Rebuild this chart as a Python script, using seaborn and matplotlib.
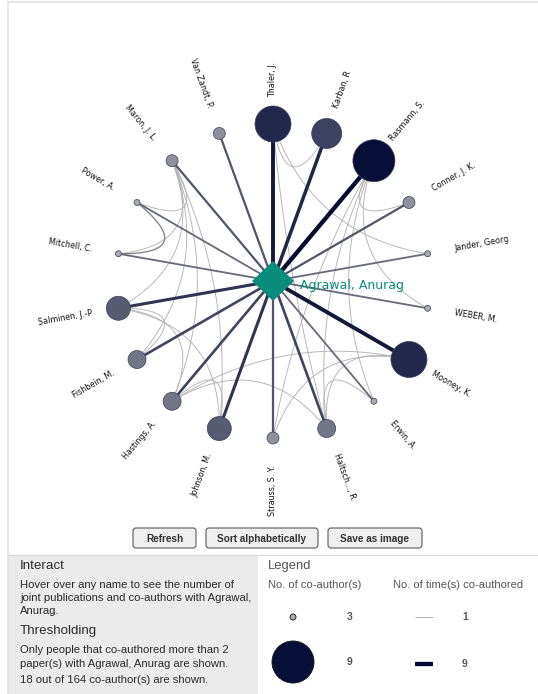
"""Co-author network of Agrawal, Anurag (radial layout)."""
import matplotlib

matplotlib.use("Agg")
import matplotlib.pyplot as plt
import numpy as np
import pandas as pd
import seaborn as sns
from matplotlib.colors import Normalize
from matplotlib.patches import FancyBboxPatch, Polygon, Rectangle

CENTER_NAME = "Agrawal, Anurag"

# co-authors, clockwise from the top
names = [
    "Thaler, J.", "Karban, R", "Rasmann, S.", "Conner, J. K.", "Jander, Georg",
    "WEBER, M.", "Mooney, K.", "Erwin, A.", "Haltsch..., R.", "Strauss, S. Y.",
    "Johnson, M.", "Hastings, A.", "Fishbein, M.", "Salminen, J.-P", "Mitchell, C.",
    "Power, A.", "Maron, J. L.", "Van Zandt, P.",
]
# joint publications with the centre author
joint = [8, 7, 9, 4, 3, 3, 8, 3, 5, 4, 6, 5, 5, 6, 3, 3, 4, 4]

# links between co-authors (a, b, times)
link_a = [
    "Thaler, J.", "Thaler, J.", "Thaler, J.", "Rasmann, S.", "Rasmann, S.",
    "Rasmann, S.", "Rasmann, S.", "Mooney, K.", "Mooney, K.", "Haltsch..., R.",
    "Hastings, A.", "Hastings, A.", "Johnson, M.", "Johnson, M.", "Maron, J. L.",
    "Salminen, J.-P", "Salminen, J.-P", "Salminen, J.-P", "Maron, J. L.", "Maron, J. L.",
    "Power, A.", "Maron, J. L.", "Rasmann, S.", "Hastings, A.",
]
link_b = [
    "Karban, R", "Jander, Georg", "Haltsch..., R.", "Conner, J. K.", "Erwin, A.",
    "Haltsch..., R.", "WEBER, M.", "Strauss, S. Y.", "Haltsch..., R.", "Erwin, A.",
    "Haltsch..., R.", "Johnson, M.", "Maron, J. L.", "Salminen, J.-P", "Hastings, A.",
    "Fishbein, M.", "Hastings, A.", "Maron, J. L.", "Power, A.", "Mitchell, C.",
    "Mitchell, C.", "Fishbein, M.", "Strauss, S. Y.", "Mooney, K.",
]
link_n = [1, 1, 1, 1, 1, 1, 1, 1, 1, 1, 1, 1, 1, 1, 1, 1, 1, 1, 1, 1, 2, 1, 1, 1]

legend_nodes = [3, 9]
legend_links = [1, 9]

W, H = 538, 694
CX, CY, R, R_LABEL = 273, 281, 157, 184
PX = 0.72  # points per pixel at dpi 100

node_cmap = sns.blend_palette(["#a9aaaf", "#070e38"], as_cmap=True)
edge_cmap = sns.blend_palette(["#b4b4b4", "#050b30"], as_cmap=True)


def node_radius(v):
    return 3 + 3 * (v - 3)


def link_width(v):
    return (1 + (v - 1) * 3.3 / 8) * PX


def link_color(v):
    return edge_cmap(((v - 1) / 8) ** 0.6)


sizes = {v: (2 * node_radius(v) * PX) ** 2 for v in range(3, 10)}

sns.set_theme(style="white")
plt.rcParams["font.family"] = ["DejaVu Sans"]

fig = plt.figure(figsize=(W / 100, H / 100), dpi=100)
ax = fig.add_axes([0, 0, 1, 1])
ax.set_xlim(0, W)
ax.set_ylim(H, 0)
ax.axis("off")

# layout
theta = np.deg2rad(90 - 20 * np.arange(len(names)))
nodes = pd.DataFrame({
    "name": names,
    "joint": joint,
    "x": CX + R * np.cos(theta),
    "y": CY - R * np.sin(theta),
    "theta": np.rad2deg(theta),
})
pos = nodes.set_index("name")[["x", "y"]]

# frame
ax.plot([8, W], [2, 2], color="#e2e2e2", lw=1.2)
ax.plot([8, 8], [2, H], color="#e2e2e2", lw=1.2)

# links between co-authors, bent toward the centre
t = np.linspace(0, 1, 60)[:, None]
centre = np.array([CX, CY])
for a, b, n in zip(link_a, link_b, link_n):
    p0, p2 = pos.loc[a].to_numpy(), pos.loc[b].to_numpy()
    ctrl = centre + 0.5 * ((p0 + p2) / 2 - centre)
    curve = (1 - t) ** 2 * p0 + 2 * (1 - t) * t * ctrl + t ** 2 * p2
    ax.plot(curve[:, 0], curve[:, 1], color="#b3b3b3" if n == 1 else "#7d7f88",
            lw=(0.9 if n == 1 else 1.3) * PX, zorder=1)

# links to the centre author
for _, row in nodes.iterrows():
    ax.plot([CX, row.x], [CY, row.y], color=link_color(row.joint),
            lw=link_width(row.joint), solid_capstyle="butt", zorder=2)

sns.scatterplot(data=nodes, x="x", y="y", hue="joint", size="joint",
                palette=node_cmap, hue_norm=Normalize(3, 9), sizes=sizes,
                edgecolor="#3a3f55", linewidth=0.5, legend=False, ax=ax, zorder=3)

# labels
for _, row in nodes.iterrows():
    th = row.theta
    th = (th + 180) % 360 - 180
    lx = CX + R_LABEL * np.cos(np.deg2rad(th))
    ly = CY - R_LABEL * np.sin(np.deg2rad(th))
    if -90 < th <= 90:
        rot, ha = th, "left"
    else:
        rot, ha = th - 180 if th > 0 else th + 180, "right"
    ax.text(lx, ly, row["name"], rotation=rot, ha=ha, va="center",
            rotation_mode="anchor", fontsize=5.8, color="#111111")

ax.add_patch(Polygon([[CX, CY - 20], [CX + 21, CY], [CX, CY + 20], [CX - 21, CY]],
                     closed=True, facecolor="#0a8c7c", edgecolor="none", zorder=4))
ax.text(CX + 27, CY + 4, CENTER_NAME, fontsize=9, color="#0a8c7c",
        ha="left", va="center", zorder=5)

# buttons
for label, x0, x1 in [("Refresh", 133, 196), ("Sort alphabetically", 206, 318),
                      ("Save as image", 328, 422)]:
    ax.add_patch(FancyBboxPatch((x0, 528), x1 - x0, 20,
                                boxstyle="round,pad=0,rounding_size=3",
                                facecolor="#efefef", edgecolor="#5a5a5a", lw=0.8))
    ax.text((x0 + x1) / 2, 538.5, label, ha="center", va="center", fontsize=7.2,
            fontweight="bold", color="#333333", family="Liberation Sans")

# bottom panel
ax.add_patch(Rectangle((8, 555), 250, H - 555, facecolor="#ebebeb", edgecolor="none"))
ax.plot([8, W], [555, 555], color="#dcdcdc", lw=1)

panel = dict(family="Liberation Sans", color="#2b2b2b", ha="left", va="center")
body = 8.1
ax.text(20, 566, "Interact", fontsize=9.6, **panel)
ax.text(20, 585, "Hover over any name to see the number of", fontsize=body, **panel)
ax.text(20, 598, "joint publications and co-authors with Agrawal,", fontsize=body, **panel)
ax.text(20, 611, "Anurag.", fontsize=body, **panel)
ax.text(20, 631, "Thresholding", fontsize=9.6, **panel)
ax.text(20, 650, "Only people that co-authored more than 2", fontsize=body, **panel)
ax.text(20, 664, "paper(s) with Agrawal, Anurag are shown.", fontsize=body, **panel)
ax.text(20, 680, "18 out of 164 co-author(s) are shown.", fontsize=body, **panel)

leg = dict(family="Liberation Sans", color="#555555", ha="left", va="center")
ax.text(268, 566, "Legend", fontsize=9.4, **leg)
ax.text(268, 585, "No. of co-author(s)", fontsize=8, **leg)
ax.text(393, 585, "No. of time(s) co-authored", fontsize=8, **leg)

leg_nodes = pd.DataFrame({"joint": legend_nodes, "x": 293, "y": [617, 662]})
sns.scatterplot(data=leg_nodes, x="x", y="y", hue="joint", size="joint",
                palette=node_cmap, hue_norm=Normalize(3, 9), sizes=sizes,
                edgecolor="#111111", linewidth=0.6, legend=False, ax=ax)
for v, yy in zip(legend_nodes, [617, 662]):
    ax.text(347, yy, str(v), fontsize=7.4, fontweight="bold", **leg)
for v, yy in zip(legend_links, [617, 664]):
    ax.plot([415, 433], [yy, yy], color=link_color(v), lw=link_width(v),
            solid_capstyle="butt")
    ax.text(462, yy, str(v), fontsize=7.4, fontweight="bold", **leg)

fig.savefig("out.png", dpi=100)
